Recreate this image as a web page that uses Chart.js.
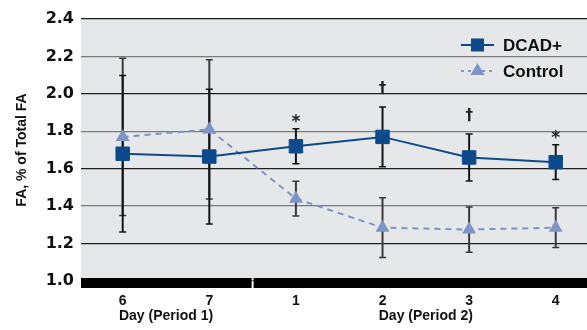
<!DOCTYPE html>
<html>
<head>
<meta charset="utf-8">
<script src="https://cdn.jsdelivr.net/npm/chart.js@4/dist/chart.umd.min.js"></script>
<style>
  html, body { margin: 0; padding: 0; background: #fff; }
  #wrap { width: 587px; height: 330px; }
</style>
</head>
<body>
<div id="wrap"><canvas id="faChart"></canvas></div>
<script>
const days = ["6", "7", "1", "2", "3", "4"];
const periodLabels = ["Day (Period 1)", "Day (Period 2)"];
const periodLabelAt = [0.5, 3.5];
const periodBreakAt = 1.5;

const dcad = [1.68, 1.665, 1.72, 1.77, 1.66, 1.635];
const dcadErr = [0.418, 0.36, 0.093, 0.16, 0.125, 0.093];
const control = [1.77, 1.81, 1.44, 1.285, 1.275, 1.285];
const controlErr = [0.42, 0.372, 0.093, 0.16, 0.121, 0.106];
const marks = ["", "", "*", "\u2020", "\u2020", "*"];

const blue = "#0c4a8b";
const lightBlue = "#7d94c6";
const panel = "#e6e7e9";

// gray panel, error bars, split axis bar
const panelPlugin = {
    id: "panel",
    beforeDraw(chart) {
        const { ctx, chartArea: a } = chart;
        ctx.save();
        ctx.fillStyle = panel;
        ctx.fillRect(a.left, a.top, a.right - a.left, a.bottom - a.top);
        ctx.restore();
    },
    beforeDatasetsDraw(chart) {
        const { ctx, scales: { x, y } } = chart;
        ctx.save();
        [1, 0].forEach(i => {
            const ds = chart.data.datasets[i];
            ctx.strokeStyle = i === 0 ? "#151515" : "#3a3a3a";
            ds.errors.forEach((e, j) => {
                const px = x.getPixelForValue(j);
                const hi = y.getPixelForValue(ds.data[j].y + e);
                const lo = y.getPixelForValue(ds.data[j].y - e);
                ctx.lineWidth = 2;
                ctx.beginPath();
                ctx.moveTo(px, hi);
                ctx.lineTo(px, lo);
                ctx.stroke();
                ctx.lineWidth = 1.5;
                ctx.beginPath();
                ctx.moveTo(px - 3.5, hi);
                ctx.lineTo(px + 3.5, hi);
                ctx.moveTo(px - 3.5, lo);
                ctx.lineTo(px + 3.5, lo);
                ctx.stroke();
            });
        });
        ctx.restore();
    },
    afterDatasetsDraw(chart) {
        const { ctx, chartArea: a, scales: { x, y } } = chart;
        ctx.save();
        // bottom bar, broken between the two periods
        const y0 = y.getPixelForValue(y.min);
        const split = x.getPixelForValue(periodBreakAt);
        ctx.fillStyle = "#000";
        ctx.fillRect(a.left, y0 - 3, split - 1 - a.left, 10);
        ctx.fillRect(split + 1, y0 - 3, a.right - split - 1, 10);

        // significance marks above DCAD+ error bars
        ctx.fillStyle = "#222";
        ctx.textAlign = "center";
        ctx.textBaseline = "alphabetic";
        marks.forEach((m, j) => {
            if (!m) return;
            const px = x.getPixelForValue(j);
            const hi = y.getPixelForValue(dcad[j] + dcadErr[j]);
            if (m === "*") {
                ctx.font = "bold 17px 'DejaVu Sans'";
                ctx.fillText(m, px, hi - 2);
            } else {
                ctx.font = "bold 15px 'DejaVu Sans'";
                ctx.fillText(m, px, hi - 14);
            }
        });
        ctx.restore();
    },
    afterDraw(chart) {
        const { ctx, chartArea: a } = chart;
        ctx.save();
        const x1 = a.right - 126, x2 = a.right - 93, xm = (x1 + x2) / 2;
        chart.data.datasets.forEach((ds, i) => {
            const ly = a.top + 26 + i * 26;
            ctx.strokeStyle = ds.borderColor;
            ctx.lineWidth = 2;
            ctx.setLineDash(i === 0 ? [] : [3, 4]);
            ctx.beginPath();
            ctx.moveTo(x1, ly);
            ctx.lineTo(x2, ly);
            ctx.stroke();
            ctx.setLineDash([]);
            ctx.fillStyle = ds.pointBackgroundColor;
            if (i === 0) {
                ctx.fillRect(xm - 6.5, ly - 6.5, 13, 13);
            } else {
                ctx.beginPath();
                ctx.moveTo(xm, ly - 8);
                ctx.lineTo(xm + 7, ly + 4);
                ctx.lineTo(xm - 7, ly + 4);
                ctx.closePath();
                ctx.fill();
            }
            ctx.fillStyle = "#111";
            ctx.font = "bold 17px 'Liberation Sans'";
            ctx.textAlign = "left";
            ctx.textBaseline = "middle";
            ctx.fillText(ds.label, a.right - 84, ly + 1);
        });
        ctx.restore();
    }
};

new Chart(document.getElementById("faChart"), {
    type: "line",
    data: {
        datasets: [{
            label: "DCAD+",
            data: dcad.map((v, i) => ({ x: i, y: v })),
            errors: dcadErr,
            borderColor: blue,
            backgroundColor: blue,
            pointBackgroundColor: blue,
            pointBorderColor: blue,
            borderWidth: 2,
            pointStyle: "rect",
            pointRadius: 9.5,
            pointBorderWidth: 1,
            tension: 0
        }, {
            label: "Control",
            data: control.map((v, i) => ({ x: i, y: v })),
            errors: controlErr,
            borderColor: lightBlue,
            backgroundColor: lightBlue,
            pointBackgroundColor: lightBlue,
            pointBorderColor: lightBlue,
            borderWidth: 2,
            borderDash: [6, 5],
            pointStyle: "triangle",
            pointRadius: 8,
            pointBorderWidth: 0,
            tension: 0
        }]
    },
    plugins: [panelPlugin],
    options: {
        responsive: true,
        maintainAspectRatio: false,
        animation: false,
        layout: { autoPadding: false, padding: { top: 19, right: 0, left: 0, bottom: 0 } },
        plugins: {
            legend: { display: false },
            tooltip: { enabled: false }
        },
        scales: {
            x: {
                type: "linear",
                min: -0.4815,
                max: 5.361,
                grid: { display: false, drawTicks: false },
                border: { display: false },
                afterBuildTicks: scale => {
                    const vals = days.map((d, i) => i).concat(periodLabelAt).sort((a, b) => a - b);
                    scale.ticks = vals.map(v => ({ value: v }));
                },
                afterFit: scale => { scale.height = 49; },
                ticks: {
                    autoSkip: false,
                    maxRotation: 0,
                    padding: 12,
                    color: "#111",
                    font: { family: "'Liberation Sans'", weight: "bold", size: 14, lineHeight: 1.1 },
                    callback: v => {
                        const p = periodLabelAt.indexOf(v);
                        return p >= 0 ? ["", periodLabels[p]] : days[v];
                    }
                }
            },
            y: {
                min: 1.0,
                max: 2.4,
                grid: {
                    drawTicks: false,
                    lineWidth: 1.3,
                    color: ctx => ctx.index % 2 === 0 ? "#7a7a7a" : "#1e1e1e"
                },
                border: { display: false },
                afterFit: scale => { scale.width = 81; },
                ticks: {
                    stepSize: 0.2,
                    padding: 7,
                    color: "#111",
                    font: { family: "'DejaVu Sans'", weight: "bold", size: 16 },
                    callback: v => v.toFixed(1)
                },
                title: {
                    display: true,
                    text: "FA, % of Total FA",
                    color: "#111",
                    padding: { top: 14, bottom: 0 },
                    font: { family: "'Liberation Sans'", weight: "bold", size: 14 }
                }
            }
        }
    }
});
</script>
</body>
</html>
